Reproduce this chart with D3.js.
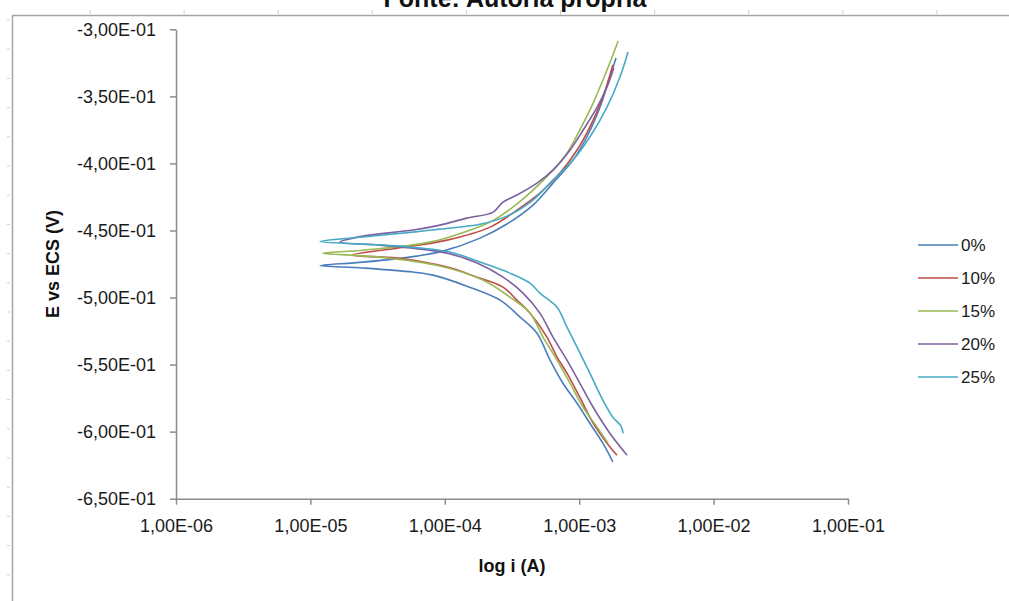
<!DOCTYPE html>
<html>
<head>
<meta charset="utf-8">
<script src="https://cdn.jsdelivr.net/npm/d3@7"></script>
<style>
  html, body { margin: 0; padding: 0; background: #fff; }
  svg { display: block; font-family: "Liberation Sans", Arial, sans-serif; }
</style>
</head>
<body>
<svg id="chart" width="1009" height="601"></svg>
<script>
// ---- data (current i in A, potential E in V), scan order: cathodic end -> tip -> anodic end
const categories = ["0%", "10%", "15%", "20%", "25%"];
const colors = ["#4A7EBB", "#BE4B48", "#98B954", "#7D60A0", "#46AAC5"];

const s0 = [
  [1.78e-3,-0.6226],[1.50e-3,-0.6086],[1.20e-3,-0.5937],[9.64e-4,-0.5788],[7.57e-4,-0.5639],
  [6.07e-4,-0.5467],[4.85e-4,-0.5266],[3.63e-4,-0.5146],[2.58e-4,-0.5019],[1.46e-4,-0.4915],
  [8.17e-5,-0.4833],[5.79e-5,-0.4810],[2.46e-5,-0.4780],[1.18e-5,-0.4762],
  [2.46e-5,-0.4736],[6.21e-5,-0.4691],[9.70e-5,-0.4654],[1.83e-4,-0.4557],[2.90e-4,-0.4452],
  [4.53e-4,-0.4311],[6.38e-4,-0.4147],[8.99e-4,-0.3975],[1.14e-3,-0.3803],[1.43e-3,-0.3580],
  [1.69e-3,-0.3356],[1.88e-3,-0.3214]
];
const s10 = [
  [1.91e-3,-0.6176],[1.61e-3,-0.6086],[1.27e-3,-0.5937],[1.01e-3,-0.5743],[8.11e-4,-0.5564],
  [6.84e-4,-0.5444],[5.75e-4,-0.5295],[4.30e-4,-0.5116],[3.44e-4,-0.5019],[2.71e-4,-0.4922],
  [1.74e-4,-0.4848],[1.04e-4,-0.4773],[4.41e-5,-0.4706],[2.04e-5,-0.4684],
  [4.41e-5,-0.4632],[1.04e-4,-0.4572],[2.17e-4,-0.4475],[3.44e-4,-0.4348],[5.10e-4,-0.4221],
  [7.19e-4,-0.4072],[9.64e-4,-0.3900],[1.20e-3,-0.3729],[1.50e-3,-0.3505],[1.78e-3,-0.3266]
];
const s15 = [
  [1.64e-3,-0.6086],[1.36e-3,-0.5967],[1.07e-3,-0.5818],[8.55e-4,-0.5639],[6.84e-4,-0.5467],
  [5.38e-4,-0.5295],[4.30e-4,-0.5116],[3.05e-4,-0.4997],[1.92e-4,-0.4870],[9.20e-5,-0.4765],
  [3.30e-5,-0.4699],[1.24e-5,-0.4669],
  [2.46e-5,-0.4647],[7.76e-5,-0.4587],[1.46e-4,-0.4505],[2.17e-4,-0.4438],[3.21e-4,-0.4326],
  [4.53e-4,-0.4199],[6.38e-4,-0.4050],[8.11e-4,-0.3923],[1.01e-3,-0.3751],[1.27e-3,-0.3550],
  [1.61e-3,-0.3304],[1.95e-3,-0.3087]
];
const s20 = [
  [2.27e-3,-0.6176],[1.69e-3,-0.6012],[1.27e-3,-0.5818],[1.01e-3,-0.5639],[8.11e-4,-0.5467],
  [6.38e-4,-0.5295],[5.10e-4,-0.5116],[3.82e-4,-0.4967],[2.71e-4,-0.4848],[1.74e-4,-0.4743],
  [1.04e-4,-0.4669],[3.30e-5,-0.4609],[1.66e-5,-0.4587],
  [2.46e-5,-0.4542],[5.79e-5,-0.4497],[9.20e-5,-0.4460],[1.46e-4,-0.4408],[2.29e-4,-0.4363],
  [2.71e-4,-0.4288],[3.44e-4,-0.4236],[4.85e-4,-0.4147],[6.38e-4,-0.4050],[8.55e-4,-0.3900],
  [1.07e-3,-0.3751],[1.36e-3,-0.3580],[1.61e-3,-0.3430],[1.81e-3,-0.3289]
];
const s25 = [
  [2.12e-3,-0.6012],[2.05e-3,-0.5959],[1.78e-3,-0.5892],[1.50e-3,-0.5765],[1.20e-3,-0.5564],
  [9.64e-4,-0.5370],[8.11e-4,-0.5221],[6.84e-4,-0.5072],[5.10e-4,-0.4967],[4.30e-4,-0.4893],
  [3.05e-4,-0.4818],[1.92e-4,-0.4743],[1.09e-4,-0.4661],[4.65e-5,-0.4617],[2.46e-5,-0.4602],
  [1.18e-5,-0.4583],
  [2.46e-5,-0.4549],[5.79e-5,-0.4512],[9.20e-5,-0.4490],[1.83e-4,-0.4453],[2.90e-4,-0.4393],
  [4.53e-4,-0.4273],[6.38e-4,-0.4124],[8.99e-4,-0.3975],[1.20e-3,-0.3803],[1.61e-3,-0.3580],
  [2.01e-3,-0.3356],[2.31e-3,-0.3169]
];
const seriesData = [s0, s10, s15, s20, s25];

const xTickValues = [1e-6, 1e-5, 1e-4, 1e-3, 1e-2, 1e-1];
const xTickLabels = ["1,00E-06", "1,00E-05", "1,00E-04", "1,00E-03", "1,00E-02", "1,00E-01"];
const yTickValues = [-0.30, -0.35, -0.40, -0.45, -0.50, -0.55, -0.60, -0.65];
const yTickLabels = ["-3,00E-01", "-3,50E-01", "-4,00E-01", "-4,50E-01", "-5,00E-01", "-5,50E-01", "-6,00E-01", "-6,50E-01"];

const titleText = "Fonte: Autoria própria";
const xTitle = "log i (A)";
const yTitle = "E vs ECS (V)";

// ---- drawing
const svg = d3.select("#chart");

// page frame / ruler remnants
const frame = svg.append("g");
frame.append("line").attr("x1", 12.5).attr("x2", 12.5).attr("y1", 15).attr("y2", 601)
  .attr("stroke", "#a6a6a6").attr("stroke-width", 1.5);
frame.append("line").attr("x1", 12).attr("x2", 1009).attr("y1", 15.5).attr("y2", 15.5)
  .attr("stroke", "#a6a6a6").attr("stroke-width", 1.5);
d3.range(10).forEach(k => {
  frame.append("line").attr("x1", 90 + k * 94.1).attr("x2", 90 + k * 94.1).attr("y1", 10).attr("y2", 15)
    .attr("stroke", "#c9d2de").attr("stroke-width", 1);
});
d3.range(20).forEach(k => {
  frame.append("line").attr("x1", 7).attr("x2", 10).attr("y1", 20 + k * 29.2).attr("y2", 20 + k * 29.2)
    .attr("stroke", "#c9d2de").attr("stroke-width", 1);
});

const x = d3.scaleLog().domain([1e-6, 1e-1]).range([176, 848]);
const y = d3.scaleLinear().domain([-0.65, -0.30]).range([498.7, 29.3]);

const axisColor = "#8c8c8c";
const gx = svg.append("g").attr("transform", `translate(0,${y(-0.65)})`)
  .call(d3.axisBottom(x).tickValues(xTickValues).tickSize(6).tickSizeOuter(0).tickPadding(15)
    .tickFormat((d, i) => xTickLabels[i]));
const gy = svg.append("g").attr("transform", `translate(${x(1e-6)},0)`)
  .call(d3.axisLeft(y).tickValues(yTickValues).tickSize(6).tickSizeOuter(0).tickPadding(14)
    .tickFormat((d, i) => yTickLabels[i]));
[gx, gy].forEach(g => {
  g.select(".domain").attr("stroke", axisColor).attr("stroke-width", 1.5);
  g.selectAll(".tick line").attr("stroke", axisColor).attr("stroke-width", 1.5);
  g.selectAll(".tick text").attr("fill", "#1a1a1a").style("font-size", "18px")
    .style("font-family", "'Liberation Sans', Arial, sans-serif");
});

// series lines
const line = d3.line().x(d => x(d[0])).y(d => y(d[1])).curve(d3.curveCatmullRom.alpha(0.5));
seriesData.forEach((s, k) => {
  svg.append("path").datum(s).attr("d", line).attr("fill", "none")
    .attr("stroke", colors[k]).attr("stroke-width", 1.6).attr("stroke-linejoin", "round");
});

// legend
const leg = svg.append("g");
categories.forEach((c, k) => {
  const yy = 245 + k * 33;
  leg.append("line").attr("x1", 918).attr("x2", 958).attr("y1", yy).attr("y2", yy)
    .attr("stroke", colors[k]).attr("stroke-width", 1.6);
  leg.append("text").attr("x", 961).attr("y", yy + 6).text(c)
    .attr("fill", "#1a1a1a").style("font-size", "17px");
});

// titles
svg.append("text").attr("x", 515).attr("y", 7).attr("text-anchor", "middle")
  .style("font-size", "25px").style("font-weight", "bold").attr("fill", "#111").text(titleText);
svg.append("text").attr("x", 512).attr("y", 572).attr("text-anchor", "middle")
  .style("font-size", "18px").style("font-weight", "bold").attr("fill", "#111").text(xTitle);
svg.append("text").attr("transform", "translate(59,264) rotate(-90)").attr("text-anchor", "middle")
  .style("font-size", "18px").style("font-weight", "bold").attr("fill", "#111").text(yTitle);
</script>
</body>
</html>
